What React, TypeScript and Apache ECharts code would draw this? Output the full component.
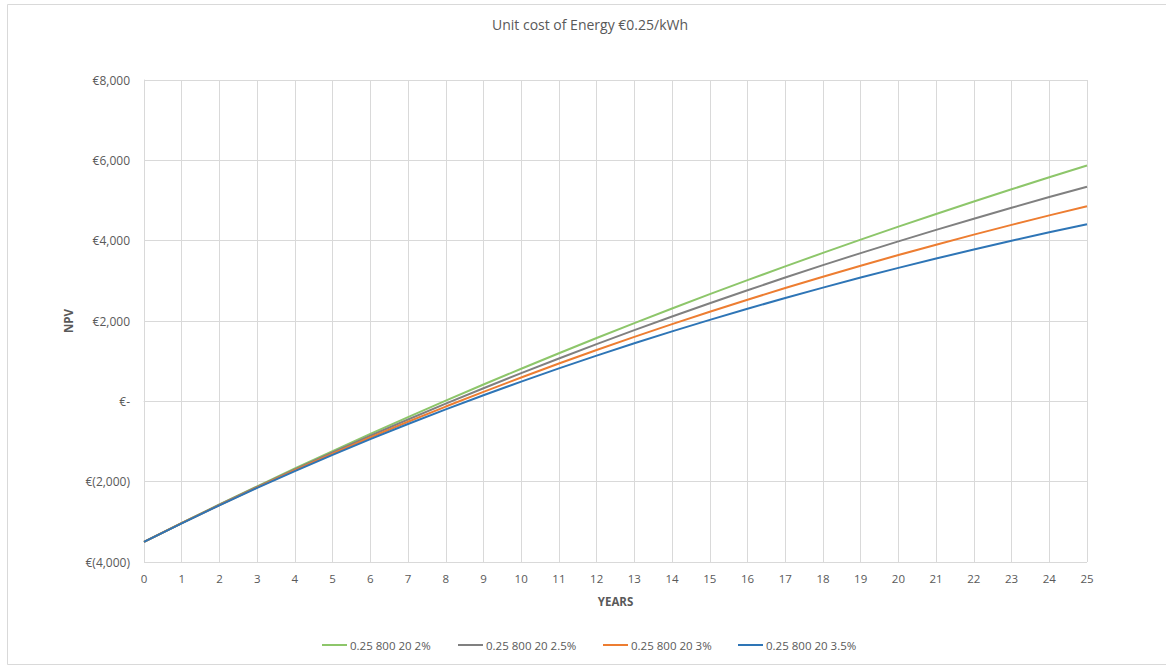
import React, { useEffect, useRef } from "react";
import * as echarts from "echarts";

const years = [0,1,2,3,4,5,6,7,8,9,10,11,12,13,14,15,16,17,18,19,20,21,22,23,24,25];
const seriesNames = ["0.25 800 20 2%", "0.25 800 20 2.5%", "0.25 800 20 3%", "0.25 800 20 3.5%"];
const npv2 = [-3500,-3029,-2568,-2116,-1672,-1238,-811,-393,16,418,812,1198,1576,1947,2311,2668,3017,3360,3696,4026,4349,4665,4976,5280,5579,5871];
const npv25 = [-3500,-3032,-2575,-2129,-1694,-1270,-856,-452,-58,326,701,1067,1424,1772,2112,2443,2766,3082,3390,3690,3983,4269,4547,4819,5085,5344];
const npv3 = [-3500,-3034,-2582,-2142,-1716,-1302,-900,-509,-130,237,594,941,1278,1605,1922,2230,2529,2820,3102,3375,3641,3899,4150,4393,4629,4858];
const npv35 = [-3500,-3036,-2588,-2155,-1737,-1333,-942,-565,-200,152,492,821,1138,1445,1742,2028,2305,2573,2831,3081,3322,3555,3780,3998,4208,4411];
const colors = ["#8DC66A", "#808080", "#ED7D31", "#2E75B6"];
const legendLefts = [322, 458, 603, 738];

const fmt = (v: number) => {
  if (v === 0) return "€-";
  const s = Math.abs(v).toLocaleString("en-US");
  return v < 0 ? `€(${s})` : `€${s}`;
};

export default function App() {
  const ref = useRef<HTMLDivElement>(null);
  useEffect(() => {
    if (!ref.current) return;
    const chart = echarts.init(ref.current, null, { renderer: "svg" });
    const all = [npv2, npv25, npv3, npv35];
    const font = "'Open Sans', 'Noto Sans', sans-serif";
    chart.setOption({
      animation: false,
      backgroundColor: "#ffffff",
      textStyle: { fontFamily: font },
      graphic: [
        {
          type: "rect",
          shape: { x: 7.5, y: 4.5, width: 1170, height: 660 },
          style: { fill: "none", stroke: "#d9d9d9", lineWidth: 1 },
          silent: true,
        },
        {
          type: "text",
          x: 590,
          y: 24,
          style: {
            text: "Unit cost of Energy €0.25/kWh",
            fontSize: 14,
            fill: "#595959",
            fontFamily: font,
            textAlign: "center",
            textVerticalAlign: "middle",
          },
        },
      ],
      legend: seriesNames.map((n, i) => ({
        data: [n],
        left: legendLefts[i],
        top: 639,
        icon: "rect",
        itemWidth: 25,
        itemHeight: 2,
        itemGap: 4,
        textStyle: { fontSize: 11.5, color: "#595959", fontFamily: font, padding: [0, 0, 0, -2] },
        padding: 0,
      })),
      grid: { left: 144, right: 79, top: 80, bottom: 104, containLabel: false },
      xAxis: {
        type: "value",
        min: 0,
        max: 25,
        interval: 1,
        name: "YEARS",
        nameLocation: "middle",
        nameGap: 33,
        nameTextStyle: { fontSize: 11.5, fontWeight: "bold", color: "#595959", fontFamily: font },
        axisLine: { show: true, lineStyle: { color: "#d9d9d9" } },
        axisTick: { show: false },
        axisLabel: { fontSize: 11.5, color: "#595959", margin: 10, fontFamily: font },
        splitLine: { show: true, lineStyle: { color: "#d9d9d9", width: 1 } },
      },
      yAxis: {
        type: "value",
        min: -4000,
        max: 8000,
        interval: 2000,
        name: "NPV",
        nameLocation: "middle",
        nameGap: 69,
        nameRotate: 90,
        nameTextStyle: { fontSize: 11.5, fontWeight: "bold", color: "#595959", fontFamily: font },
        axisLine: { show: true, lineStyle: { color: "#d9d9d9" } },
        axisTick: { show: false },
        axisLabel: { fontSize: 12, color: "#595959", margin: 14, formatter: fmt, fontFamily: font },
        splitLine: { show: true, lineStyle: { color: "#d9d9d9", width: 1 } },
      },
      series: seriesNames.map((n, i) => ({
        name: n,
        type: "line",
        data: years.map((y, j) => [y, all[i][j]]),
        showSymbol: false,
        symbol: "none",
        lineStyle: { width: 2, color: colors[i] },
        itemStyle: { color: colors[i] },
      })),
    });
    return () => chart.dispose();
  }, []);
  return (
    <div
      ref={ref}
      style={{ position: "fixed", left: 0, top: 0, width: 1166, height: 666 }}
    />
  );
}
